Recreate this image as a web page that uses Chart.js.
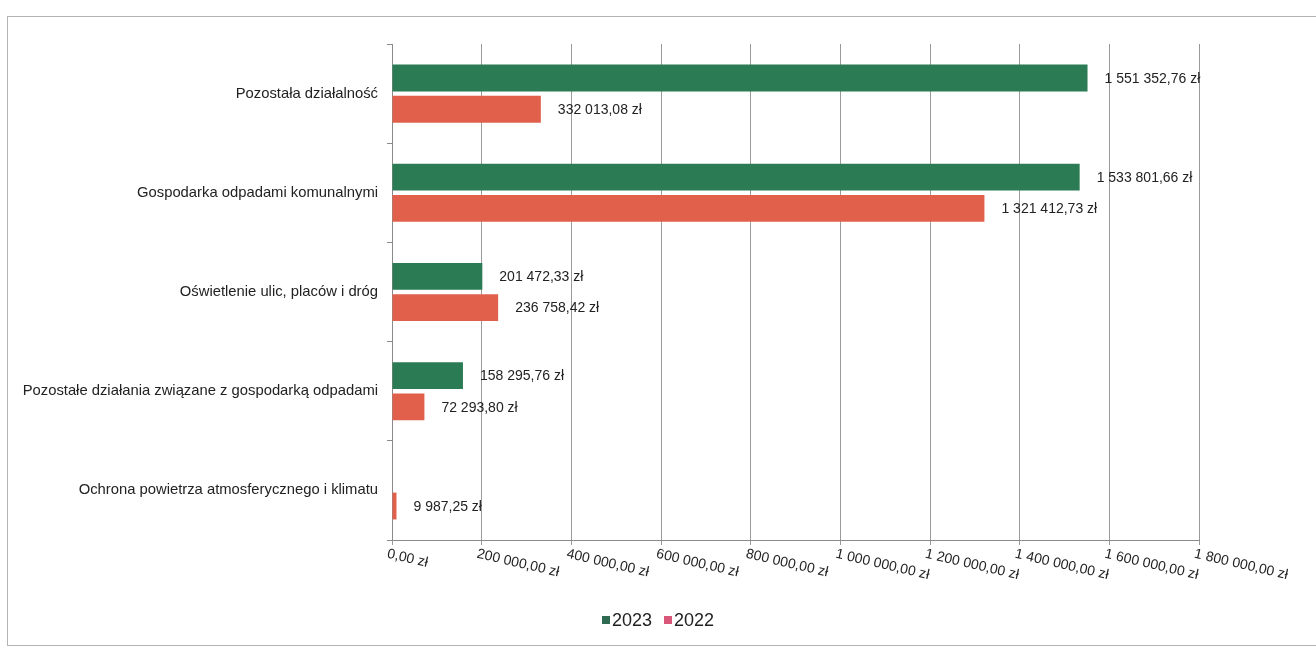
<!DOCTYPE html>
<html lang="pl">
<head>
<meta charset="utf-8">
<script src="https://cdn.jsdelivr.net/npm/chart.js@4/dist/chart.umd.min.js"></script>
<style>
  html, body { margin: 0; padding: 0; background: #fff; }
  #wrap { position: relative; width: 1316px; height: 650px; overflow: hidden; }
  #frame { position: absolute; left: 7px; top: 16px; width: 1320px; height: 630px; border: 1px solid #b4b4b4; box-sizing: border-box; }
  #wydatki-chart { position: absolute; left: 0; top: 0; }
  #wydatki-chart-legend { position: absolute; left: 0; width: 1316px; top: 610px; text-align: center; font-family: "Liberation Sans", Arial, sans-serif; font-size: 18px; color: #222; }
  #wydatki-chart-legend ul { list-style: none; margin: 0; padding: 0; display: inline-block; }
  #wydatki-chart-legend li { display: inline-block; margin: 0 6px; }
  #wydatki-chart-legend span { display: inline-block; width: 8px; height: 8px; margin-right: 2px; vertical-align: 2px; }
</style>
</head>
<body>
<div id="wrap">
  <div id="frame"></div>
  <canvas id="wydatki-chart" width="1316" height="650"></canvas>
  <div id="wydatki-chart-legend"></div>
</div>
<script>
  const categories = [
    "Pozostała działalność",
    "Gospodarka odpadami komunalnymi",
    "Oświetlenie ulic, placów i dróg",
    "Pozostałe działania związane z gospodarką odpadami",
    "Ochrona powietrza atmosferycznego i klimatu"
  ];
  const values2023 = [1551352.76, 1533801.66, 201472.33, 158295.76, null];
  const values2022 = [332013.08, 1321412.73, 236758.42, 72293.80, 9987.25];
  const xTicks = [0, 200000, 400000, 600000, 800000, 1000000, 1200000, 1400000, 1600000, 1800000];

  const fontFamily = '"Liberation Sans", Arial, sans-serif';

  function formatZl(v) {
    const parts = v.toFixed(2).split('.');
    const intPart = parts[0].replace(/\B(?=(\d{3})+(?!\d))/g, ' ');
    return intPart + ',' + parts[1] + ' zł';
  }

  const ctx = document.getElementById('wydatki-chart');

  new Chart(ctx, {
    type: 'bar',
    data: {
      labels: categories,
      datasets: [{
        label: '2023',
        data: values2023,
        backgroundColor: '#2b7c55',
        legendColor: '#2e6b52',
        categoryPercentage: 0.63,
        barPercentage: 0.86
      }, {
        label: '2022',
        data: values2022,
        backgroundColor: '#e0604b',
        legendColor: '#d9587a',
        categoryPercentage: 0.63,
        barPercentage: 0.86
      }]
    },
    options: {
      indexAxis: 'y',
      responsive: false,
      animation: false,
      layout: { padding: { left: 0, right: 117, top: 44, bottom: 0 } },
      scales: {
        x: {
          min: 0,
          max: 1800000,
          afterBuildTicks: function (scale) {
            scale.ticks = xTicks.map(v => ({ value: v }));
          },
          afterFit: function (scale) { scale.height = 110; },
          ticks: { display: false },
          grid: { color: '#9a9a9a', lineWidth: 1, drawTicks: true, tickLength: 5 },
          border: { color: '#8a8a8a' }
        },
        y: {
          afterFit: function (scale) { scale.width = 392; },
          ticks: { color: '#222', font: { family: fontFamily, size: 14.8 }, padding: 9 },
          grid: { drawOnChartArea: false, drawTicks: true, tickLength: 5, color: '#8a8a8a' },
          border: { color: '#8a8a8a' }
        }
      },
      plugins: {
        legend: { display: false },
        tooltip: { enabled: false }
      }
    },
    plugins: [{
      afterDatasetsDraw: function (chart) {
        const c = chart.ctx;
        c.save();
        c.font = '14px ' + fontFamily;
        c.fillStyle = '#222';
        c.textAlign = 'left';
        c.textBaseline = 'middle';
        chart.data.datasets.forEach((ds, i) => {
          chart.getDatasetMeta(i).data.forEach((bar, j) => {
            const v = ds.data[j];
            if (v === null || v === undefined) return;
            c.fillText(formatZl(v), bar.x + 17, bar.y + 1);
          });
        });

        // rotated x tick labels (descending to the right)
        const xs = chart.scales.x;
        c.textBaseline = 'top';
        xTicks.forEach(v => {
          const px = xs.getPixelForValue(v);
          c.save();
          c.translate(px - 3, xs.top + 7);
          c.rotate(13 * Math.PI / 180);
          c.fillText(formatZl(v), 0, 0);
          c.restore();
        });
        c.restore();
      },
      afterUpdate: function (chart) {
        const legendEl = document.getElementById(`${chart.canvas.id}-legend`);
        const ul = document.createElement('ul');
        chart.data.datasets.forEach(ds => {
          ul.innerHTML += `<li><span style="background-color: ${ds.legendColor}"></span>${ds.label}</li>`;
        });
        if (legendEl) {
          legendEl.innerHTML = '';
          legendEl.appendChild(ul);
        }
      }
    }]
  });
</script>
</body>
</html>
